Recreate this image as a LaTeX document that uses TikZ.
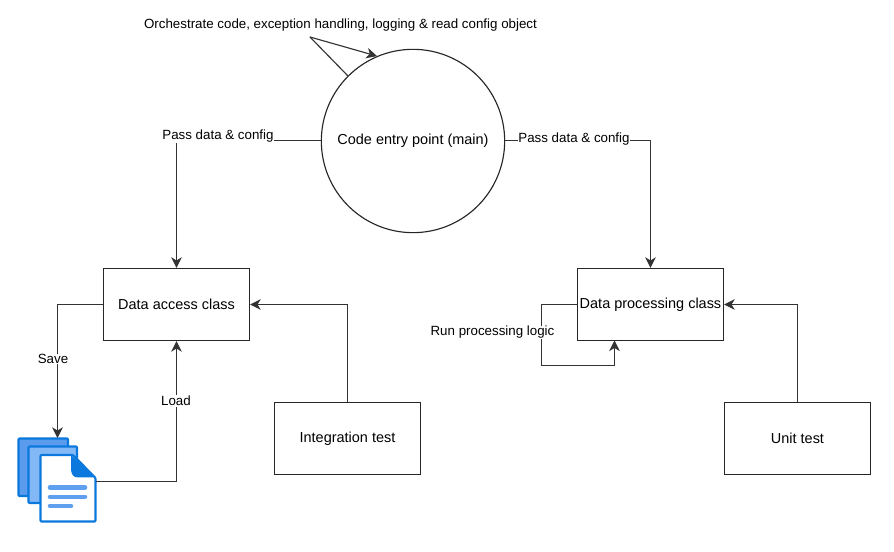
\documentclass[tikz,border=0pt]{standalone}
\usepackage{fontspec}
\setmainfont{Liberation Sans}
\usetikzlibrary{arrows.meta}
\definecolor{iconblue}{HTML}{0A78DC}
\definecolor{midblue}{HTML}{83B8F7}
\definecolor{backblue}{HTML}{5A9BEE}
\definecolor{barblue}{HTML}{5F9FEF}
\tikzset{
  boxnode/.style={draw=black!85,line width=0.85pt,minimum width=109.5pt,minimum height=54pt,inner sep=0pt,font=\fontsize{10.85}{13}\selectfont},
  conn/.style={draw=black!80,line width=0.85pt,-{Stealth[length=8pt,width=8pt,inset=2.4pt]}},
  plain/.style={draw=black!80,line width=0.85pt},
  lab/.style={fill=white,inner xsep=0.3pt,inner ysep=0.5pt,font=\fontsize{10}{12}\selectfont},
  page/.style={draw=iconblue,line width=1.6pt,line join=round,rounded corners=0.7pt},
}
\begin{document}
\begin{tikzpicture}[x=0.75pt,y=-0.75pt]
\useasboundingbox[fill=white] (0,0) rectangle (894,552);
\node[draw=black!85,line width=0.85pt,circle,minimum size=137.5pt,inner sep=0pt,font=\fontsize{10.85}{13}\selectfont] (main) at (413,141) {Code entry point (main)};
\node[boxnode] (access) at (176.5,304.5) {Data access class};
\node[boxnode] (proc) at (650.5,304.5) {Data processing class};
\node[boxnode] (integ) at (347.5,438.5) {Integration test};
\node[boxnode] (unit) at (797.5,438.5) {Unit test};
\node[minimum width=58.5pt,minimum height=63pt,inner sep=0pt] (docs) at (56.5,480) {};
% document icon
\draw[page,fill=backblue] (18.5,438.5) rectangle (68,496);
\draw[page,fill=midblue] (28.5,446.5) rectangle (77,503);
\draw[page,fill=white] (40.5,455) -- (73,455) -- (95.5,478) -- (95.5,521.5) -- (40.5,521.5) -- cycle;
\fill[iconblue] (71,455) -- (95.5,477.5) -- (78,477.5) .. controls (74,477.5) and (71.5,475) .. (71,470) -- cycle;
\draw[barblue,line width=3.4pt,line cap=round] (50,487.5) -- (85,487.5) (50,497) -- (85,497) (50,506) -- (71,506);
% callout
\coordinate (apex) at (310,37);
\draw[plain] (apex) -- (main.135);
\draw[conn] (apex) -- (main.113);
% connectors
\draw[conn] (main.west |- 0,140.5) -- (176.5,140.5) -- (access.north);
\draw[conn] (main.east |- 0,140.5) -- (650.5,140.5) -- (proc.north);
\draw[conn] (access.west) -- (57.5,304.5) -- (57.5,438);
\draw[conn] (docs.east |- 0,481.5) -- (176.5,481.5) -- (access.south);
\draw[conn] (integ.north) -- (347.5,304.5) -- (access.east);
\draw[conn] (unit.north) -- (797.5,304.5) -- (proc.east);
\draw[conn] (proc.west) -- (541.5,304.5) -- (541.5,365.5) -- (614.5,365.5) -- (614.5,340.5);
% labels
\node[lab] (l1) at (218,136) {Pass data \& config};
\node[lab] (l2) at (574,139) {Pass data \& config};
\node[lab] (l3) at (53,359) {Save};
\node[lab] (l4) at (176,401) {Load};
\node[lab] (l5) at (492.5,332.5) {Run processing logic};
\node[font=\fontsize{10}{12}\selectfont,inner sep=0pt] (l6) at (340.5,25) {Orchestrate code, exception handling, logging \& read config object};
\end{tikzpicture}
\end{document}
